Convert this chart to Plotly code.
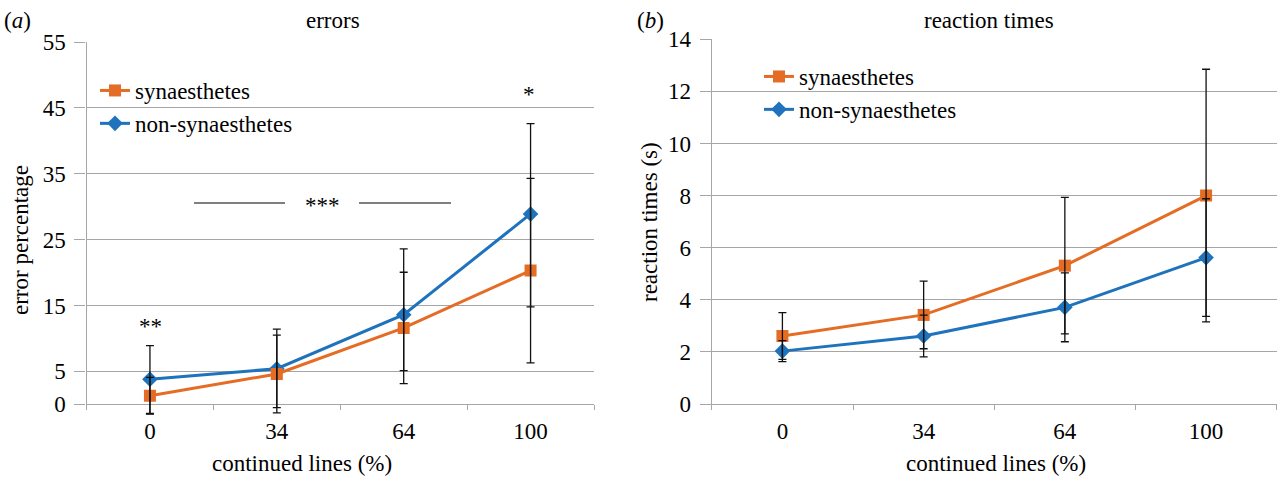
import plotly.graph_objects as go

# ---------------- data ----------------
categories = ["0", "34", "64", "100"]

# (a) errors (%)
err_syn = [1.3, 4.6, 11.6, 20.3]
err_syn_sd = [2.8, 5.9, 8.45, 14.0]
err_non = [3.8, 5.4, 13.6, 28.9]
err_non_up = [5.1, 6.0, 10.0, 13.7]
err_non_down = [5.2, 5.9, 8.5, 14.1]

# (b) reaction times (s)
rt_syn = [2.61, 3.42, 5.31, 8.0]
rt_syn_sd = [0.9, 1.3, 2.62, 4.85]
rt_non = [2.03, 2.61, 3.71, 5.62]
rt_non_sd = [0.4, 0.8, 1.32, 2.26]

err_yticks = [0, 5, 15, 25, 35, 45, 55]
rt_yticks = [0, 2, 4, 6, 8, 10, 12, 14]

# ---------------- style ----------------
ORANGE = "#E46C24"
BLUE = "#1F72BC"
GRID = "#A6A6A6"
FONT = "'Liberation Serif', 'Times New Roman', Times, serif"
FS = 23
W, H = 1280, 479
EXT = 12  # px the error-bar layer extends below the category axis

# pixel geometry of the two panels
LX0, LX1, LTOP, LBOT = 86.5, 594, 42, 404.3
RX0, RX1, RTOP, RBOT = 711.8, 1276.7, 39.3, 404
L_YMAX, R_YMAX = 55, 14
l_ppu = (LBOT - LTOP) / L_YMAX
r_ppu = (RBOT - RTOP) / R_YMAX

fig = go.Figure()


def add_panel(xa, ya, yerr, legend, syn, syn_up, syn_dn, non, non_up, non_dn):
    fig.add_trace(go.Scatter(
        x=categories, y=non, xaxis=xa, yaxis=ya, mode="lines+markers",
        name="non-synaesthetes", legend=legend, legendrank=2, legendgroup=legend + "n",
        line=dict(color=BLUE, width=3),
        marker=dict(symbol="diamond", size=12, color=BLUE)))
    fig.add_trace(go.Scatter(
        x=categories, y=syn, xaxis=xa, yaxis=ya, mode="lines+markers",
        name="synaesthetes", legend=legend, legendrank=1, legendgroup=legend + "s",
        line=dict(color=ORANGE, width=3),
        marker=dict(symbol="square", size=12, color=ORANGE)))
    for vals, up, dn in ((non, non_up, non_dn), (syn, syn_up, syn_dn)):
        fig.add_trace(go.Scatter(
            x=categories, y=vals, xaxis=xa, yaxis=yerr, mode="markers",
            marker=dict(size=1, opacity=0), showlegend=False, hoverinfo="skip",
            error_y=dict(type="data", symmetric=False, array=up, arrayminus=dn,
                         color="#111111", thickness=1.3, width=4)))


add_panel("x", "y", "y3", "legend", err_syn, err_syn_sd, err_syn_sd, err_non, err_non_up, err_non_down)
add_panel("x2", "y2", "y4", "legend2", rt_syn, rt_syn_sd, rt_syn_sd, rt_non, rt_non_sd, rt_non_sd)

xcommon = dict(type="category", range=[-0.5, 3.5], showgrid=False, showline=True,
               linecolor=GRID, linewidth=1.3, automargin=False,
               ticks="outside", tickson="boundaries", ticklen=5, tickcolor=GRID, tickwidth=1.3,
               tickfont=dict(family=FONT, size=FS, color="black"), ticklabelstandoff=6,
               zeroline=False)
ycommon = dict(showgrid=True, gridcolor=GRID, gridwidth=1.3, showline=True, linecolor=GRID,
               linewidth=1.3, ticks="outside", ticklen=11, tickcolor=GRID, tickwidth=1.3,
               tickfont=dict(family=FONT, size=FS, color="black"), zeroline=False,
               ticklabelstandoff=4, automargin=False)
yhidden = dict(visible=False, showgrid=False, zeroline=False, automargin=False)

fig.update_layout(
    width=W, height=H, margin=dict(l=0, r=0, t=0, b=0, pad=0), autosize=False,
    paper_bgcolor="white", plot_bgcolor="rgba(0,0,0,0)",
    font=dict(family=FONT, size=FS, color="black"),
    xaxis=dict(domain=[LX0 / W, LX1 / W], anchor="y", **xcommon),
    yaxis=dict(domain=[1 - LBOT / H, 1 - LTOP / H], anchor="x", range=[0, L_YMAX],
               tickvals=err_yticks, **ycommon),
    xaxis2=dict(domain=[RX0 / W, RX1 / W], anchor="y2", **xcommon),
    yaxis2=dict(domain=[1 - RBOT / H, 1 - RTOP / H], anchor="x2", range=[0, R_YMAX],
                tickvals=rt_yticks, **ycommon),
    yaxis3=dict(domain=[1 - (LBOT + EXT) / H, 1 - LTOP / H], anchor="x",
                range=[-EXT / l_ppu, L_YMAX], **yhidden),
    yaxis4=dict(domain=[1 - (RBOT + EXT) / H, 1 - RTOP / H], anchor="x2",
                range=[-EXT / r_ppu, R_YMAX], **yhidden),
    legend=dict(x=95 / W, y=1 - 69 / H, xanchor="left", yanchor="top",
                bgcolor="rgba(0,0,0,0)", font=dict(family=FONT, size=FS),
                traceorder="grouped", tracegroupgap=0),
    legend2=dict(x=759 / W, y=1 - 55 / H, xanchor="left", yanchor="top",
                 bgcolor="rgba(0,0,0,0)", font=dict(family=FONT, size=FS),
                 traceorder="grouped", tracegroupgap=0),
)

ann = []


def txt(x, y, text, **kw):
    d = dict(x=x / W, y=1 - y / H, xref="paper", yref="paper", text=text, showarrow=False,
             xanchor="center", yanchor="middle", font=dict(family=FONT, size=FS, color="black"))
    d.update(kw)
    ann.append(d)


txt(17, 20, "(<i>a</i>)")
txt(333, 20, "errors")
txt(650, 20, "(<i>b</i>)")
txt(989, 20, "reaction times")
txt(20, 240, "error percentage", textangle=-90)
txt(649, 222, "reaction times (s)", textangle=-90)
txt(302, 463, "continued lines (%)")
txt(996, 463, "continued lines (%)")
txt(150, 326, "**")
txt(529, 94, "*")
txt(322, 205, "***")
fig.update_layout(annotations=ann)

shapes = []
for x0, x1 in ((194, 285), (359, 451)):
    shapes.append(dict(type="line", xref="paper", yref="paper", x0=x0 / W, x1=x1 / W,
                       y0=1 - 203 / H, y1=1 - 203 / H, line=dict(color="black", width=1.2)))
# y-axis line extending below the category axis
for xr, yr in (("x domain", "y"), ("x2 domain", "y2")):
    shapes.append(dict(type="line", xref=xr, yref=yr, x0=0, x1=0, ysizemode="pixel",
                       yanchor=0, y0=0, y1=-EXT, line=dict(color=GRID, width=1.3)))
fig.update_layout(shapes=shapes)

fig.write_html("out.html", config={"displayModeBar": False},
               post_script="document.body.style.margin='0px';document.body.style.overflow='hidden';")
